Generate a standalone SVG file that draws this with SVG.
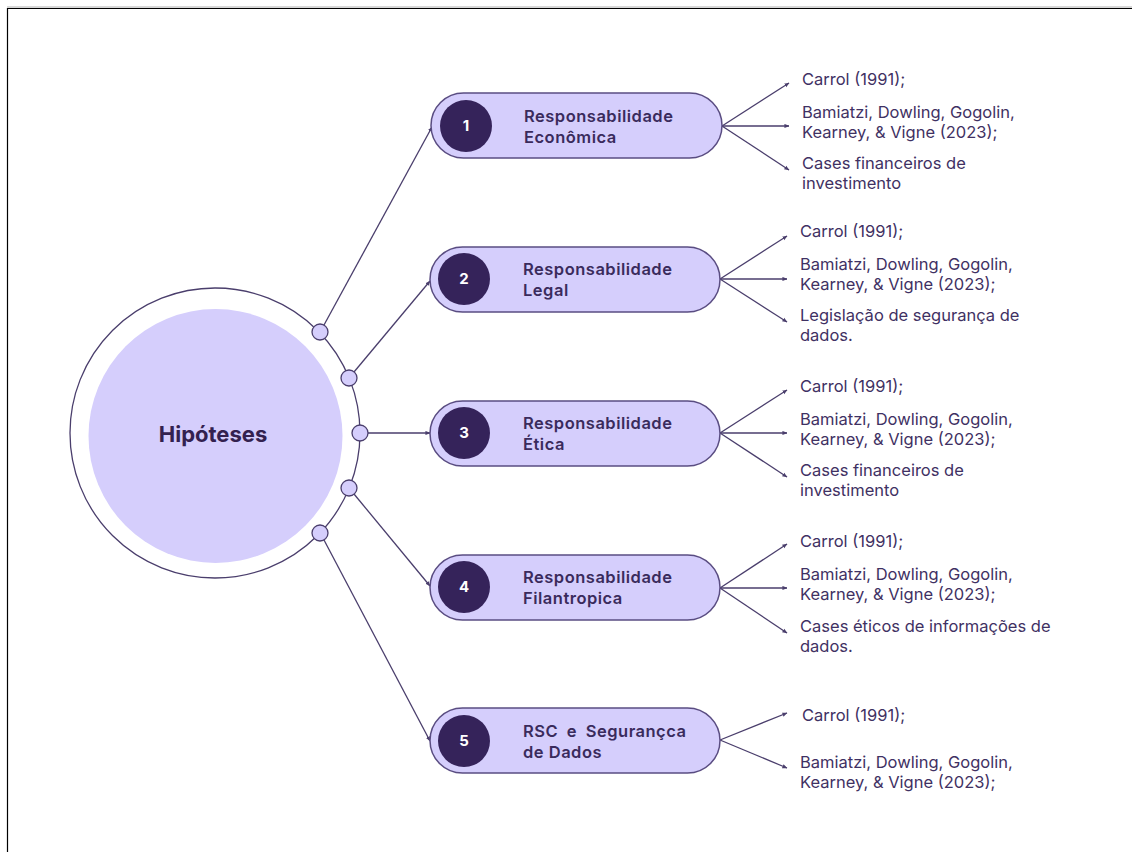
<svg xmlns="http://www.w3.org/2000/svg" width="1132" height="852" viewBox="0 0 1132 852">
<defs>
<marker id="ah" viewBox="0 0 6 6" refX="5.5" refY="3" markerWidth="5" markerHeight="5" orient="auto" markerUnits="userSpaceOnUse">
<path d="M0,0.5 L6,3 L0,5.5 z" fill="#4a3e6c"/>
</marker>
<style>
.ln{stroke:#4a3e6c;stroke-width:1.3;fill:none;marker-end:url(#ah)}
.pill{fill:#d5cefc;stroke:#5a4d82;stroke-width:1.5}
.num{fill:#35235a}
.numt{font-family:Inter,"Noto Sans",sans-serif;font-weight:700;font-size:15px;fill:#ffffff;text-anchor:middle}
.pt{font-family:Inter,"Noto Sans",sans-serif;font-weight:600;font-size:16.5px;letter-spacing:0.5px;fill:#3a2b5c}
.ref{font-family:Inter,"Noto Sans",sans-serif;font-size:16.5px;fill:#3f3163}
.dot{fill:#d5cefc;stroke:#4a3e6c;stroke-width:1.3}
</style>
</defs>
<rect width="1132" height="852" fill="#ffffff"/>
<line x1="7" y1="7" x2="1132" y2="7" stroke="#b0b0b0" stroke-width="1"/>
<line x1="7" y1="8.5" x2="1132" y2="8.5" stroke="#000000" stroke-width="1.2"/>
<line x1="7.5" y1="8" x2="7.5" y2="852" stroke="#000000" stroke-width="1.2"/>

<g id="connectors">
<line class="ln" x1="324" y1="325" x2="432" y2="127"/>
<line class="ln" x1="354" y1="372" x2="430" y2="281"/>
<line class="ln" x1="368" y1="433" x2="430" y2="433"/>
<line class="ln" x1="354" y1="494" x2="430" y2="586"/>
<line class="ln" x1="324" y1="540" x2="430" y2="741"/>

<line class="ln" x1="722" y1="126" x2="789" y2="83"/>
<line class="ln" x1="722" y1="126" x2="789" y2="126"/>
<line class="ln" x1="722" y1="126" x2="789" y2="170"/>

<line class="ln" x1="720" y1="279" x2="787" y2="236"/>
<line class="ln" x1="720" y1="279" x2="787" y2="279"/>
<line class="ln" x1="720" y1="279" x2="787" y2="322"/>

<line class="ln" x1="720" y1="433" x2="787" y2="390"/>
<line class="ln" x1="720" y1="433" x2="787" y2="433"/>
<line class="ln" x1="720" y1="433" x2="787" y2="477"/>

<line class="ln" x1="720" y1="588" x2="787" y2="544"/>
<line class="ln" x1="720" y1="588" x2="787" y2="588"/>
<line class="ln" x1="720" y1="588" x2="787" y2="633"/>

<line class="ln" x1="720" y1="740" x2="787" y2="713"/>
<line class="ln" x1="720" y1="740" x2="787" y2="768"/>
</g>

<g id="hub">
<circle cx="215" cy="433" r="145" fill="#ffffff" stroke="#4a3e6c" stroke-width="1.3"/>
<circle cx="215.5" cy="436" r="127" fill="#d5cefc"/>
<text x="213" y="442" font-family="Inter,'Noto Sans',sans-serif" font-weight="700" font-size="22" fill="#33214f" text-anchor="middle">Hipóteses</text>
<circle class="dot" cx="320" cy="332" r="8"/>
<circle class="dot" cx="349" cy="378" r="8"/>
<circle class="dot" cx="360" cy="433" r="8"/>
<circle class="dot" cx="349" cy="488" r="8"/>
<circle class="dot" cx="320" cy="533" r="8"/>
</g>

<g id="node1">
<rect class="pill" x="431" y="93" width="291" height="65" rx="32.5"/>
<circle class="num" cx="466" cy="126" r="26"/>
<text class="numt" x="466" y="131">1</text>
<text class="pt" x="524" y="122">Responsabilidade</text>
<text class="pt" x="524" y="143">Econômica</text>
<text class="ref" x="802" y="85">Carrol (1991);</text>
<text class="ref" x="802" y="118">Bamiatzi, Dowling, Gogolin,</text>
<text class="ref" x="802" y="138">Kearney, &amp; Vigne (2023);</text>
<text class="ref" x="802" y="169">Cases financeiros de</text>
<text class="ref" x="802" y="189">investimento</text>
</g>

<g id="node2">
<rect class="pill" x="430" y="247" width="290" height="65" rx="32.5"/>
<circle class="num" cx="464" cy="279" r="26"/>
<text class="numt" x="464" y="284">2</text>
<text class="pt" x="523" y="275">Responsabilidade</text>
<text class="pt" x="523" y="296">Legal</text>
<text class="ref" x="800" y="237">Carrol (1991);</text>
<text class="ref" x="800" y="270">Bamiatzi, Dowling, Gogolin,</text>
<text class="ref" x="800" y="290">Kearney, &amp; Vigne (2023);</text>
<text class="ref" x="800" y="321">Legislação de segurança de</text>
<text class="ref" x="800" y="341">dados.</text>
</g>

<g id="node3">
<rect class="pill" x="430" y="401" width="290" height="65" rx="32.5"/>
<circle class="num" cx="464" cy="433" r="26"/>
<text class="numt" x="464" y="438">3</text>
<text class="pt" x="523" y="429">Responsabilidade</text>
<text class="pt" x="523" y="450">Ética</text>
<text class="ref" x="800" y="392">Carrol (1991);</text>
<text class="ref" x="800" y="425">Bamiatzi, Dowling, Gogolin,</text>
<text class="ref" x="800" y="445">Kearney, &amp; Vigne (2023);</text>
<text class="ref" x="800" y="476">Cases financeiros de</text>
<text class="ref" x="800" y="496">investimento</text>
</g>

<g id="node4">
<rect class="pill" x="430" y="555" width="290" height="65" rx="32.5"/>
<circle class="num" cx="464" cy="587" r="26"/>
<text class="numt" x="464" y="592">4</text>
<text class="pt" x="523" y="583">Responsabilidade</text>
<text class="pt" x="523" y="604">Filantropica</text>
<text class="ref" x="800" y="547">Carrol (1991);</text>
<text class="ref" x="800" y="580">Bamiatzi, Dowling, Gogolin,</text>
<text class="ref" x="800" y="600">Kearney, &amp; Vigne (2023);</text>
<text class="ref" x="800" y="632">Cases éticos de informações de</text>
<text class="ref" x="800" y="652">dados.</text>
</g>

<g id="node5">
<rect class="pill" x="430" y="708" width="290" height="65" rx="32.5"/>
<circle class="num" cx="464" cy="741" r="26"/>
<text class="numt" x="464" y="746">5</text>
<text class="pt" x="523" y="737" word-spacing="4">RSC e Segurançca</text>
<text class="pt" x="523" y="758">de Dados</text>
<text class="ref" x="802" y="721">Carrol (1991);</text>
<text class="ref" x="800" y="768">Bamiatzi, Dowling, Gogolin,</text>
<text class="ref" x="800" y="788">Kearney, &amp; Vigne (2023);</text>
</g>
</svg>
